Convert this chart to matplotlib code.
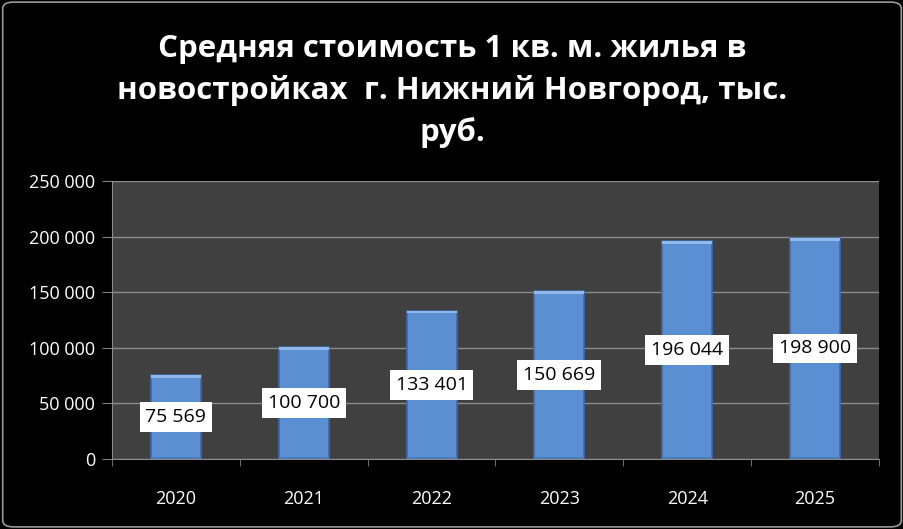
import matplotlib.pyplot as plt
from matplotlib.patches import FancyBboxPatch
from matplotlib.ticker import FuncFormatter

years = ["2020", "2021", "2022", "2023", "2024", "2025"]
prices = [75569, 100700, 133401, 150669, 196044, 198900]

plt.rcParams['font.family'] = ['Open Sans', 'DejaVu Sans']

fig = plt.figure(figsize=(9.04, 5.29), dpi=100, facecolor='black')
border = FancyBboxPatch((0.003, 0.004), 0.994, 0.992, boxstyle="round,pad=0,rounding_size=0.012",
                        transform=fig.transFigure, facecolor='none', edgecolor='#9a9a9a', lw=1.2, zorder=-1)
fig.patches.append(border)

ax = fig.add_axes([112/904, 1 - 459/529, 767/904, 278/529])
ax.set_facecolor('#404040')

x = range(len(years))
bars = ax.bar(x, prices, width=0.39, color='#5a8fd4', edgecolor='#3c6aa6', linewidth=1.2, zorder=3)
# light top cap and dark bottom strip for a bevel look
for b in bars:
    ax.bar(b.get_x() + b.get_width() / 2, 2500, bottom=b.get_height() - 2500, width=b.get_width(),
           color='#93b9ea', linewidth=0, zorder=4)
    ax.bar(b.get_x() + b.get_width() / 2, 1500, bottom=0, width=b.get_width(),
           color='#4a7bbd', linewidth=0, zorder=4)

for i, v in enumerate(prices):
    ax.text(i, v / 2, f"{v:,}".replace(",", " "), ha='center', va='center', fontsize=14, color='black',
            zorder=5, bbox=dict(boxstyle='square,pad=0.3', facecolor='white', edgecolor='none'))

ax.set_xlim(-0.5, 5.5)
ax.set_ylim(0, 250000)
ax.set_yticks(range(0, 250001, 50000))
ax.yaxis.set_major_formatter(FuncFormatter(lambda v, p: f"{int(v):,}".replace(",", " ")))
ax.set_xticks(list(x))
ax.set_xticklabels(years)
ax.set_xticks([i + 0.5 for i in range(-1, 6)], minor=True)
ax.tick_params(axis='x', which='major', length=0, colors='white', labelsize=13, pad=22)
ax.tick_params(axis='x', which='minor', length=5, color='#808080', direction='out')
ax.tick_params(axis='y', length=7, color='#808080', colors='white', labelsize=13, pad=5)
ax.grid(axis='y', color='#8c8c8c', linewidth=1, zorder=0)
for s in ['top', 'right']:
    ax.spines[s].set_visible(False)
for s in ['left', 'bottom']:
    ax.spines[s].set_color('#8c8c8c')

fig.text(0.5, 1 - 91/529, "Средняя стоимость 1 кв. м. жилья в\nновостройках  г. Нижний Новгород, тыс.\nруб.",
         ha='center', va='center', color='white', fontsize=22.5, fontweight='bold', linespacing=1.45)

fig.savefig('out.png', dpi=100, facecolor='black')
